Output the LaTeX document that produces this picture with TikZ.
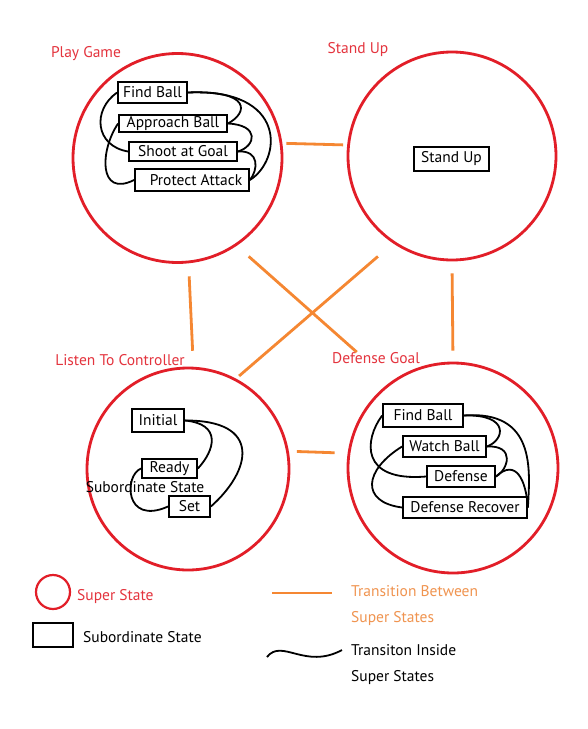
\documentclass[tikz,border=0pt]{standalone}
\usepackage{fontspec}
\setmainfont{PT Sans}
\definecolor{superred}{RGB}{226,30,40}
\definecolor{labelred}{RGB}{228,52,62}
\definecolor{transorange}{RGB}{245,135,50}
\definecolor{textorange}{RGB}{240,148,80}
\begin{document}
\begin{tikzpicture}[x=1pt, y=-1pt, font=\fontsize{15.5}{18}\selectfont,
    superstate/.style={circle, draw=superred, line width=2.8pt, inner sep=0pt},
    substate/.style={rectangle, draw=black, line width=1.8pt, inner sep=0pt, minimum height=20pt},
    suplabel/.style={text=labelred, inner sep=0pt},
    trans/.style={draw=transorange, line width=2.8pt},
    inside/.style={draw=black, line width=1.8pt}]
    \useasboundingbox[fill=white] (0,0) rectangle (587,729);

    % Draw nodes for super states
    \node[superstate, minimum size=209pt] (pg) at (177.5,158) {};
    \node[superstate, minimum size=208pt] (su) at (452,156) {};
    \node[superstate, minimum size=202pt] (ltc) at (188,469) {};
    \node[superstate, minimum size=210pt] (dg) at (453,468) {};
    \node[suplabel] (pglabel) at (86,54) {Play Game};
    \node[suplabel] (sulabel) at (358,50) {Stand Up};
    \node[suplabel] (ltclabel) at (120,360) {Listen To Controller};
    \node[suplabel] (dglabel) at (376,358) {Defense Goal};

    % Draw nodes for subordinate states
    \node[substate, minimum width=69pt, minimum height=21pt] (fb) at (152.5,92.5) {Find Ball};
    \node[substate, minimum width=108pt, minimum height=17pt] (ap) at (173,123.5) {Approach Ball};
    \node[substate, minimum width=108pt, minimum height=19pt] (sg) at (183,151.5) {Shoot at Goal};
    \node[substate, minimum width=114pt, minimum height=22pt] (pa) at (192,180) {\hspace{8pt}Protect Attack};
    \node[substate, minimum width=75pt, minimum height=24pt] (st) at (451.5,159) {Stand Up};
    \node[substate, minimum width=52pt, minimum height=23pt] (ini) at (158,420.5) {Initial};
    \node[substate, minimum width=55pt, minimum height=19pt] (rdy) at (169.5,468.5) {Ready};
    \node[substate, minimum width=41pt, minimum height=21pt] (set) at (189.5,506.5) {Set};
    \node[inner sep=0pt] (subtext) at (145,487) {Subordinate State};
    \node[substate, minimum width=80pt, minimum height=23pt] (dfb) at (423,415.5) {Find Ball};
    \node[substate, minimum width=83pt, minimum height=21pt] (wb) at (444.5,446.5) {Watch Ball};
    \node[substate, minimum width=68pt, minimum height=21pt] (def) at (461,476.5) {Defense};
    \node[substate, minimum width=124pt, minimum height=21pt] (dr) at (465,507.5) {Defense Recover};

    % Draw edges between super states
    \draw[trans, shorten <=4pt, shorten >=4pt] (pg.8) -- (su.174);
    \draw[trans, shorten <=13pt, shorten >=16pt] (pg.-84) -- (ltc.87);
    \draw[trans, shorten <=12pt, shorten >=11pt] (su.south) -- (dg.north);
    \draw[trans, shorten <=16pt, shorten >=45pt] (pg.-56) -- (dg.126);
    \draw[trans, shorten <=20pt, shorten >=4pt] (su.236) -- (ltc.62);
    \draw[trans, shorten <=8pt, shorten >=13pt] (ltc.10) -- (dg.172);

    % Draw edges inside Play Game
    \draw[inside] (fb.east) .. controls (252,90) and (248,113) .. (ap.east);
    \draw[inside] (fb.east) .. controls (288,88) and (282,160) .. (pa.east);
    \draw[inside] (ap.east) .. controls (260,125) and (256,146) .. (sg.east);
    \draw[inside] (sg.east) .. controls (260,150) and (258,170) .. (pa.east);
    \draw[inside] (fb.west) .. controls (92,110) and (95,146) .. (sg.west);
    \draw[inside] (ap.west) .. controls (100,150) and (98,198) .. (pa.west);

    % Draw edges inside Listen To Controller
    \draw[inside] (ini.east) .. controls (222,424) and (215,450) .. (rdy.east);
    \draw[inside] (ini.east) .. controls (262,420) and (252,470) .. (set.east);
    \draw[inside] (rdy.west) .. controls (124,475) and (124,526) .. (set.west);

    % Draw edges inside Defense Goal
    \draw[inside] (dfb.east) .. controls (510,414) and (505,440) .. (wb.east);
    \draw[inside] (dfb.east) .. controls (536,410) and (530,470) .. (dr.east);
    \draw[inside] (wb.east) .. controls (516,445) and (508,470) .. (def.east);
    \draw[inside] (def.east) .. controls (516,458) and (526,480) .. (dr.east);
    \draw[inside] (dfb.west) .. controls (364,440) and (360,482) .. (def.west);
    \draw[inside] (wb.west) .. controls (364,470) and (360,502) .. (dr.west);

    % Legend
    \node[superstate, minimum size=34pt, line width=2.2pt] (legsuper) at (53,592) {};
    \node[suplabel, anchor=west] (legsupertext) at (77,597) {Super State};
    \node[substate, minimum width=40pt, minimum height=24pt] (legsub) at (53,635) {};
    \node[inner sep=0pt, anchor=west] (legsubtext) at (83,637) {Subordinate State};
    \coordinate (legtransa) at (272,593);
    \coordinate (legtransb) at (332,593);
    \draw[trans, line width=2.2pt] (legtransa) -- (legtransb);
    \node[text=textorange, inner sep=0pt, anchor=west, align=left, font=\fontsize{15.5}{26}\selectfont] (legtranstext) at (351,606) {Transition Between\\Super States};
    \coordinate (legwavea) at (267,657);
    \coordinate (legwaveb) at (342,650);
    \draw[inside] (legwavea) .. controls (282,638) and (305,670) .. (legwaveb);
    \node[inner sep=0pt, anchor=west, align=left, font=\fontsize{15.5}{26}\selectfont] (leginsidetext) at (351,665) {Transiton Inside\\Super States};
\end{tikzpicture}
\end{document}
